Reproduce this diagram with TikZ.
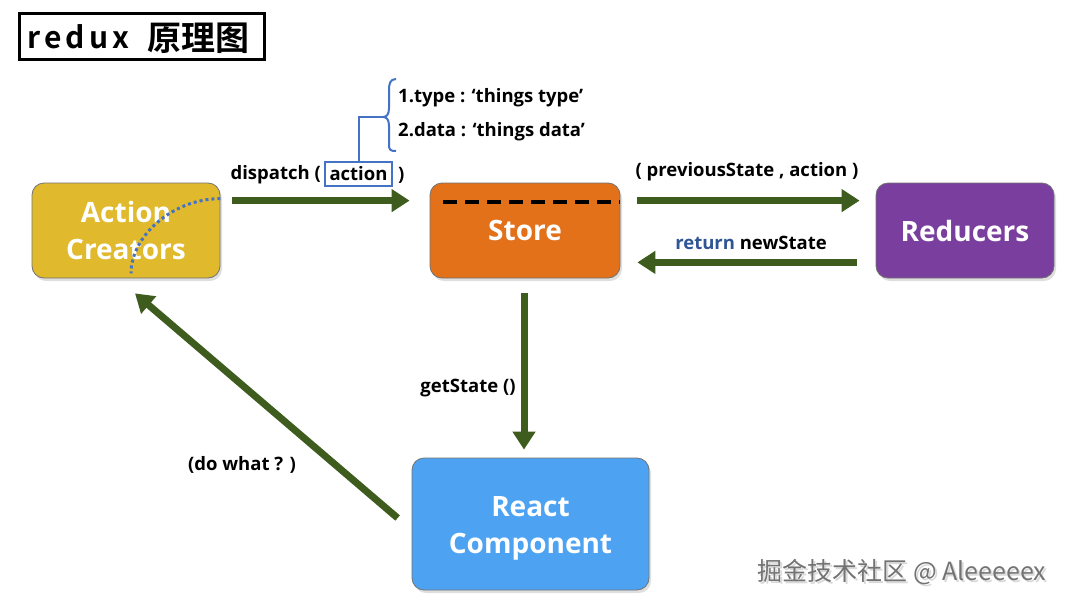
\documentclass[tikz,border=0pt]{standalone}
\usepackage{fontspec}
\setmainfont{Open Sans}
\newfontfamily\cjk{Noto Sans CJK SC}[BoldFont={Noto Sans CJK SC Bold}]
\usetikzlibrary{arrows.meta,shadows,calc}
\definecolor{arrgreen}{RGB}{61,92,30}
\definecolor{acgold}{RGB}{224,185,44}
\definecolor{storeor}{RGB}{226,113,26}
\definecolor{redpur}{RGB}{122,63,158}
\definecolor{reactbl}{RGB}{77,163,242}
\definecolor{linkblue}{RGB}{68,114,196}
\definecolor{retblue}{RGB}{47,85,151}
\tikzset{
  box/.style={draw=black!55, line width=0.8pt, rounded corners=12pt, text=white,
    font=\bfseries\fontsize{28}{36}\selectfont, align=center, inner sep=0pt,
    drop shadow={opacity=0.25, shadow xshift=2pt, shadow yshift=-3pt}},
  boxtext/.style={text=white, font=\bfseries\fontsize{28}{36}\selectfont, align=center, inner sep=0pt},
  flow/.style={draw=arrgreen, line width=7pt, -{Triangle[width=22pt,length=18pt]}},
  lbl/.style={font=\bfseries\fontsize{18.5}{22}\selectfont, inner sep=0pt, text=black},
  bluel/.style={draw=linkblue, line width=2pt}
}
\begin{document}
\begin{tikzpicture}[x=1pt,y=-1pt]
\useasboundingbox (0,0) rectangle (1066,603);
\fill[white] (0,0) rectangle (1066,603);
% title
\node[draw=black, line width=3pt, minimum width=245pt, minimum height=46pt, inner sep=0pt] (title) at (141.5,36.5) {};
\node[anchor=west, inner sep=0pt, font=\cjk\bfseries\fontsize{30}{36}\selectfont] (ttext) at (27,37)
  {\addfontfeature{LetterSpace=14}redux};
\node[anchor=west, inner sep=0pt, font=\cjk\bfseries\fontsize{34}{38}\selectfont] (tcjk) at (147,38)
  {原理图};
% boxes
\node[box, fill=acgold, minimum width=188pt, minimum height=95pt] (AC) at (126,230.5) {Action\\[1pt]Creators};
\node[box, fill=storeor, minimum width=190pt, minimum height=95pt] (Store) at (525,230.5) {Store};
\node[box, fill=redpur, minimum width=178pt, minimum height=95pt] (Red) at (965,230.5) {Reducers};
\node[box, fill=reactbl, minimum width=237pt, minimum height=132pt] (React) at (530.5,524) {};
\node[boxtext] (reacttxt) at ([yshift=-4pt]React.center) {React\\[1pt]Component};
% dashed line in store
\draw[black, line width=3.5pt, dash pattern=on 14pt off 8pt] (443,202) -- (620,202);
% dotted curve
\draw[linkblue, line width=3pt, dash pattern=on 3pt off 3pt] ([yshift=-16pt]AC.north east) .. controls (171,199) and (131,237) .. ([xshift=5pt,yshift=5pt]AC.south);
% arrows
\draw[flow] ([xshift=12pt,yshift=-18pt]AC.north east) -- ([xshift=-20pt,yshift=-18pt]Store.north west);
\draw[flow] ([xshift=17pt,yshift=-18pt]Store.north east) -- ([xshift=-16pt,yshift=-18pt]Red.north west);
\draw[flow] ([xshift=-19pt,yshift=16pt]Red.south west) -- ([xshift=17pt,yshift=16pt]Store.south east);
\draw[flow] ([xshift=-1pt,yshift=-15pt]Store.south) -- ([xshift=-1pt,yshift=8pt]Store.south |- React.north);
\draw[flow] ([xshift=-14pt,yshift=6pt]React.west) -- ([xshift=9pt,yshift=-15pt]AC.south);
% labels
\node[lbl, anchor=east] (disp) at (321,175) {dispatch (};
\node[bluel, lbl, minimum width=67pt, minimum height=24pt] (act) at (358.5,174) {action};
\node[lbl, anchor=west] (close) at (398,175) {)};
\draw[bluel] (act.north) |- (383,117);
\draw[bluel] (396,79) .. controls (390,79) and (389,84) .. (389,90) -- (389,108) .. controls (389,114) and (387,117) .. (383,117)
  .. controls (387,117) and (389,120) .. (389,126) -- (389,144) .. controls (389,150) and (390,151) .. (396,151);
\node[lbl, anchor=west] (t1) at (398,98) {1.type : ‘things type’};
\node[lbl, anchor=west] (t2) at (398,132) {2.data : ‘things data’};
\node[lbl] (prev) at (747,172) {( previousState , action )};
\node[lbl] (ret) at (751,243) {\textcolor{retblue}{return} newState};
\node[lbl] (gs) at (468,388) {getState ()};
\node[lbl] (dw) at (242,465) {(do what ? )};
% watermark
\node[font=\cjk\fontsize{25}{28}\selectfont, text=black!15, inner sep=0pt] at (904,574) {掘金技术社区 @ Aleeeeex};
\node[font=\cjk\fontsize{25}{28}\selectfont, text=black!55, inner sep=0pt] (wm) at (902,572) {掘金技术社区 @ Aleeeeex};
\end{tikzpicture}
\end{document}
